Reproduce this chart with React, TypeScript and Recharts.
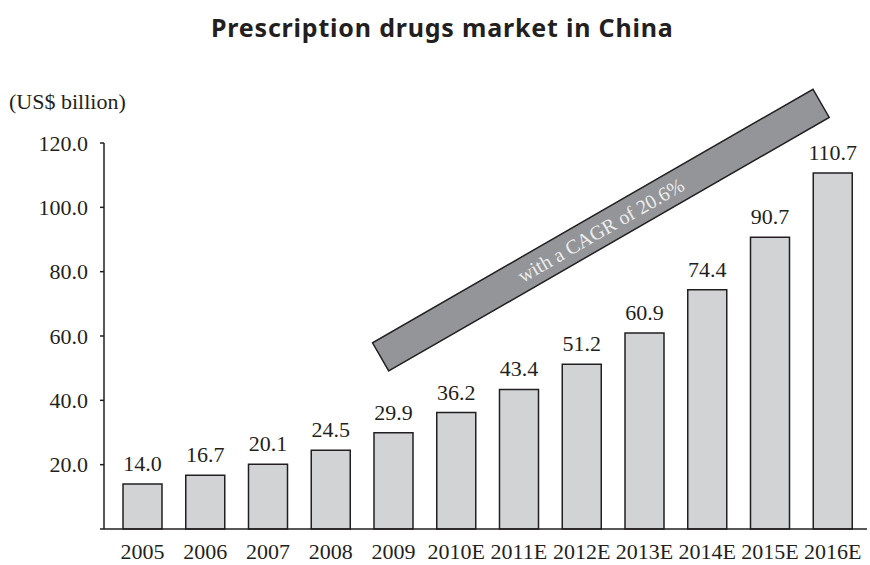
import React from "react";
import { BarChart, Bar, XAxis, YAxis, LabelList, ReferenceLine } from "recharts";

const years = ["2005", "2006", "2007", "2008", "2009", "2010E", "2011E", "2012E", "2013E", "2014E", "2015E", "2016E"];
const marketSize = [14.0, 16.7, 20.1, 24.5, 29.9, 36.2, 43.4, 51.2, 60.9, 74.4, 90.7, 110.7];
const yTicks = [0, 20, 40, 60, 80, 100, 120];

// CAGR band anchored on two categories (value = height of the band's centre line there)
const bandFrom = { x: "2009", y: 55.8 };
const bandTo = { x: "2016E", y: 134.4 };
const bandText = "with a CAGR of 20.6%";

const INK = "#231f20";
const SERIF = "'Liberation Serif', 'Times New Roman', serif";

const rows = years.map((year, i) => ({ year, value: marketSize[i] }));

// ── arrow-like band drawn around the reference segment ───────────────────
function CagrBand(props: any) {
  const { x1, y1, x2, y2 } = props;
  if (x1 == null || x2 == null) return null;
  const dx = x2 - x1;
  const dy = y2 - y1;
  const len = Math.sqrt(dx * dx + dy * dy);
  const ux = dx / len;
  const uy = dy / len;
  const nx = -uy;
  const ny = ux;
  const half = 16.25;
  const sx = x1 - 14.7 * ux;
  const sy = y1 - 14.7 * uy;
  const ex = x2 - 13.3 * ux;
  const ey = y2 - 13.3 * uy;
  const pts = [
    [sx + nx * half, sy + ny * half],
    [ex + nx * half, ey + ny * half],
    [ex - nx * half, ey - ny * half],
    [sx - nx * half, sy - ny * half],
  ]
    .map((p) => p.join(","))
    .join(" ");
  const cx = (sx + ex) / 2;
  const cy = (sy + ey) / 2;
  const angle = (Math.atan2(dy, dx) * 180) / Math.PI;
  return (
    <g>
      <polygon points={pts} fill="#939598" stroke={INK} strokeWidth={1.5} />
      <text
        x={cx}
        y={cy}
        transform={`rotate(${angle} ${cx} ${cy})`}
        textAnchor="middle"
        dominantBaseline="central"
        fill="#ececec"
        fontSize={20}
        fontFamily={SERIF}
      >
        {bandText}
      </text>
    </g>
  );
}

export default function App() {
  return (
    <div style={{ position: "relative", width: 870, height: 565, background: "#fff" }}>
      <style>{"body{margin:0}"}</style>
      <div
        style={{
          position: "absolute",
          left: 211,
          top: 10,
          fontFamily: "'Noto Sans', sans-serif",
          fontWeight: 700,
          fontSize: 25,
          color: INK,
          whiteSpace: "nowrap",
          letterSpacing: 0.8,
        }}
      >
        Prescription drugs market in China
      </div>
      <div
        style={{
          position: "absolute",
          left: 9,
          top: 89,
          fontFamily: SERIF,
          fontSize: 22,
          color: INK,
          whiteSpace: "nowrap",
        }}
      >
        (US$ billion)
      </div>
      <BarChart
        width={870}
        height={565}
        data={rows}
        margin={{ top: 143, right: 3, left: 0, bottom: 0 }}
        style={{ position: "absolute", left: 0, top: 0 }}
      >
        <XAxis
          dataKey="year"
          interval={0}
          height={36}
          padding={{ left: 7, right: 3 }}
          tickLine={false}
          tickSize={6}
          tickMargin={8}
          axisLine={{ stroke: INK, strokeWidth: 1.5 }}
          tick={{ fontSize: 22, fill: INK, fontFamily: SERIF }}
        />
        <YAxis
          domain={[0, 120]}
          ticks={yTicks}
          width={104}
          tickSize={4}
          tickMargin={12}
          axisLine={{ stroke: INK, strokeWidth: 1.5 }}
          tickLine={{ stroke: INK, strokeWidth: 1.5 }}
          tick={{ fontSize: 22, fill: INK, fontFamily: SERIF }}
          tickFormatter={(v: number) => (v === 0 ? "" : v.toFixed(1))}
        />
        <Bar dataKey="value" barSize={39} fill="#d1d3d4" stroke={INK} strokeWidth={1.5} isAnimationActive={false}>
          <LabelList
            dataKey="value"
            position="top"
            offset={13}
            formatter={(v: any) => Number(v).toFixed(1)}
            style={{ fontSize: 22, fill: INK, fontFamily: SERIF }}
          />
        </Bar>
        <ReferenceLine segment={[bandFrom, bandTo]} ifOverflow="visible" shape={CagrBand} />
      </BarChart>
    </div>
  );
}
